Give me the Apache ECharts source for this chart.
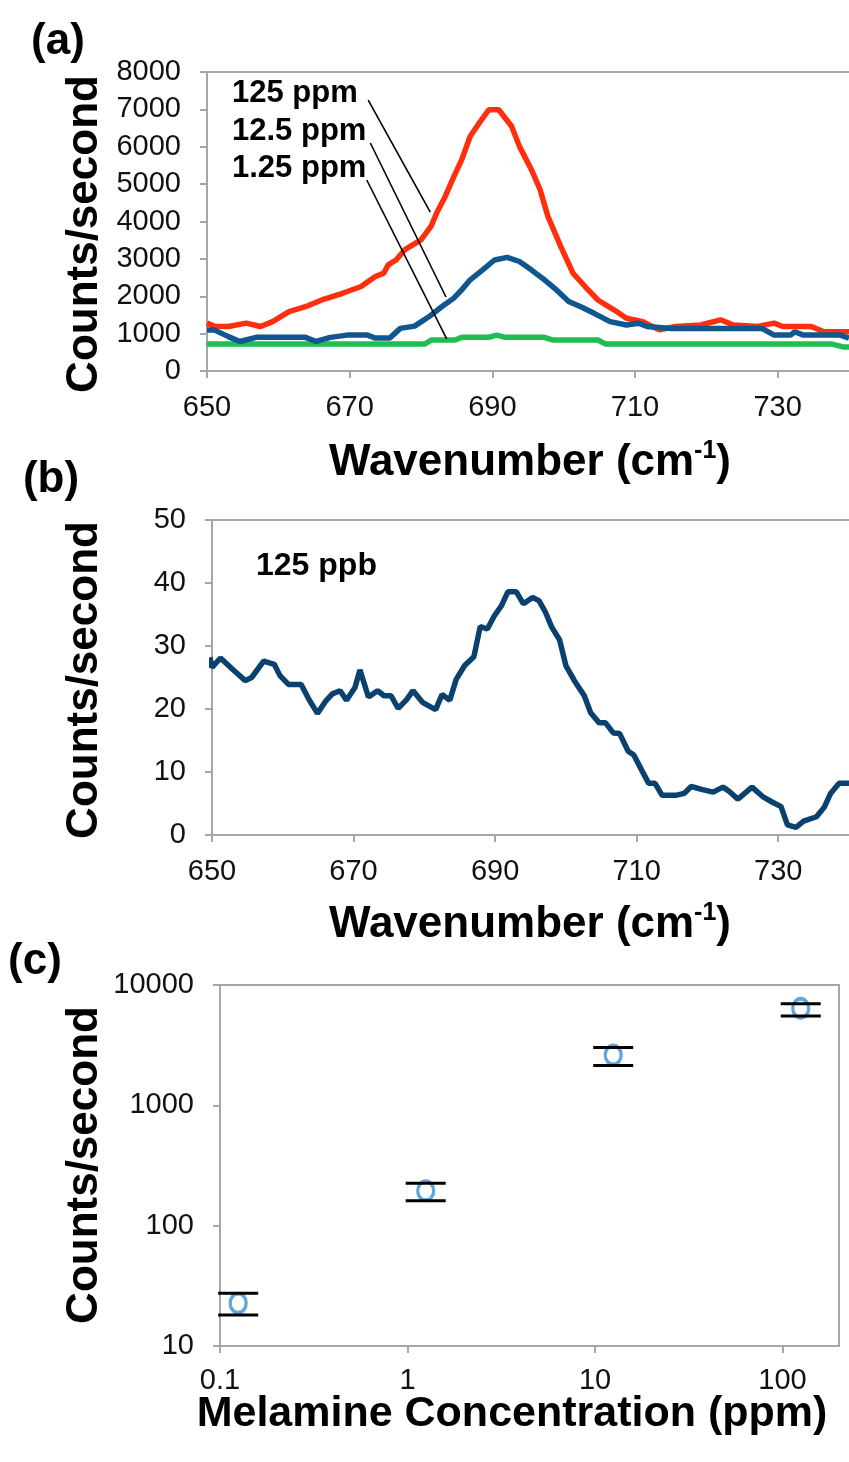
<!DOCTYPE html>
<html>
<head>
<meta charset="utf-8">
<script src="https://cdn.jsdelivr.net/npm/echarts@6/dist/echarts.min.js"></script>
<style>
  html, body { margin: 0; padding: 0; background: #fff; }
  #myChart { width: 849px; height: 1462px; }
</style>
</head>
<body>
<div id="myChart"></div>
<script>
// (a) spectra at three concentrations
const wn125 = [650, 651, 653, 655.5, 657.5, 659.2, 661.5, 663.8, 666.1, 669, 671.6, 673.6, 674.8, 675.4, 676.5, 677.7, 680, 681.4, 682.3, 683.4, 684.6, 685.7, 686.9, 688, 689.5, 690.9, 692.7, 693.8, 695.5, 696.7, 697.8, 699.6, 701.3, 703, 704.8, 707.1, 708.8, 711.1, 713.4, 715.7, 719.2, 722, 723.8, 727.2, 729.5, 730.7, 734.7, 736.5, 740]
const cps125 = [1280, 1200, 1190, 1280, 1190, 1320, 1590, 1720, 1900, 2080, 2260, 2530, 2620, 2840, 2970, 3240, 3510, 3870, 4270, 4670, 5200, 5650, 6280, 6590, 6990, 6990, 6550, 6010, 5380, 4850, 4130, 3330, 2620, 2260, 1900, 1630, 1410, 1320, 1100, 1190, 1230, 1370, 1230, 1190, 1280, 1190, 1190, 1050, 1050]
const wn12_5 = [650, 651, 653, 654.6, 656.9, 663.8, 665.3, 667.3, 669.6, 672.5, 673.6, 675.6, 677.1, 679.1, 681.1, 682.9, 684.6, 685.7, 686.9, 688.6, 690.3, 692.1, 693.8, 695.5, 697.3, 699, 700.7, 702.4, 704.2, 706.5, 708.8, 710.5, 711.7, 715.1, 727.8, 729.5, 731.8, 732.4, 733.6, 738.8, 740]
const cps12_5 = [1100, 1100, 920, 790, 900, 900, 790, 900, 960, 960, 880, 880, 1140, 1200, 1450, 1720, 1950, 2170, 2440, 2700, 2970, 3040, 2930, 2700, 2440, 2170, 1860, 1720, 1550, 1320, 1230, 1280, 1190, 1140, 1140, 960, 960, 1050, 960, 960, 880]
const wn1_25 = [650, 680.5, 681.5, 684.8, 685.7, 689.5, 690.6, 691.8, 697.3, 698.4, 704.8, 705.9, 737.6, 739.3, 740]
const cps1_25 = [720, 720, 830, 830, 900, 900, 960, 900, 900, 830, 830, 720, 720, 640, 640]
// leader lines from the labels to the curves: [x1, y1, x2, y2]
const leaders = [
  [672.6, 7250, 681.3, 4250],
  [672.9, 6100, 683.5, 1980],
  [672.4, 5110, 683.6, 860]
]
const seriesNames = ['125 ppm', '12.5 ppm', '1.25 ppm']

// (b) 125 ppb spectrum
const wnPpb = [649.7, 650, 651.2, 652.9, 654.7, 655.6, 657.3, 658.8, 659.6, 660.8, 662.6, 663.7, 664.9, 666.1, 667, 668.1, 669, 670.2, 670.9, 672.1, 673.4, 674.3, 675.3, 676.3, 677.5, 678.4, 679.8, 681.6, 682.5, 683.6, 684.5, 685.7, 687, 687.9, 688.9, 689.9, 690.9, 691.8, 693, 694, 695.3, 696.2, 697.1, 698, 699.1, 700, 701.2, 702.6, 703.5, 704.7, 705.6, 706.7, 707.6, 708.8, 709.6, 710.8, 711.7, 712.6, 713.6, 715.5, 716.7, 717.7, 719.3, 720.8, 722.2, 723.1, 724.3, 726.3, 727.8, 729.2, 730.4, 731.3, 732.5, 733.6, 735.4, 736.5, 737.4, 738.6, 740]
const cpsPpb = [28.2, 26.6, 28.1, 26.3, 24.5, 25, 27.6, 27.1, 25.3, 23.9, 23.9, 21.5, 19.3, 21.3, 22.4, 22.9, 21.4, 23.4, 26.2, 21.9, 22.9, 22.1, 22.1, 20.1, 21.5, 22.9, 21, 19.9, 22.3, 21.4, 24.7, 26.9, 28.3, 33.1, 32.7, 34.8, 36.4, 38.6, 38.6, 36.7, 37.7, 37.2, 35.4, 33, 31, 26.9, 24.5, 22.1, 19.4, 17.8, 17.8, 16.2, 16.1, 13.3, 12.7, 10.1, 8.2, 8.2, 6.3, 6.3, 6.6, 7.7, 7.2, 6.8, 7.6, 6.9, 5.7, 7.6, 6.1, 5.2, 4.5, 1.6, 1.2, 2.2, 2.9, 4.4, 6.6, 8.2, 8.2]

// (c) calibration
const concs = [0.125, 1.25, 12.5, 125]
const means = [22.7, 195, 2620, 6410]
const errLow = [18.1, 161, 2140, 5530]
const errHigh = [27.4, 225, 3020, 6970]

const FONT = '"Liberation Sans", Arial, sans-serif'
const AXIS_GRAY = '#a6a6a6'
const TICK_SIZE = 29

function pairs (xs, ys) {
  return xs.map((x, i) => [x, ys[i]])
}

function tickLabel (margin, formatter, extra) {
  return Object.assign({
    color: '#111',
    fontSize: TICK_SIZE,
    fontFamily: FONT,
    margin: margin,
    formatter: formatter || (v => String(v))
  }, extra || {})
}

function valueAxis (grid, min, max, interval, extra) {
  return Object.assign({
    type: 'value',
    gridIndex: grid,
    min: min,
    max: max,
    interval: interval,
    splitLine: { show: false },
    axisLine: { show: true, lineStyle: { color: AXIS_GRAY, width: 2 } },
    axisTick: { show: true, inside: false, length: 7, lineStyle: { color: AXIS_GRAY, width: 2 } },
    axisLabel: tickLabel(22, null, { showMaxLabel: false })
  }, extra || {})
}

function borderAxis (grid, min, max) {
  return {
    type: 'value',
    gridIndex: grid,
    position: 'top',
    min: min,
    max: max,
    splitLine: { show: false },
    axisLine: { show: true, lineStyle: { color: AXIS_GRAY, width: 2 } },
    axisTick: { show: false },
    axisLabel: { show: false }
  }
}

function titleX (text, x, y) {
  return {
    type: 'text',
    x: x,
    y: y,
    style: {
      text: '{a|' + text + ' (cm}{s|-1}{a|)}',
      align: 'center',
      verticalAlign: 'middle',
      textAlign: 'center',
      textVerticalAlign: 'middle',
      rich: {
        a: { fontSize: 44, fontWeight: 'bold', fontFamily: FONT, lineHeight: 48, fill: '#000' },
        s: { fontSize: 25, fontWeight: 'bold', fontFamily: FONT, lineHeight: 25, verticalAlign: 'top', fill: '#000' }
      }
    }
  }
}

function plainText (text, x, y, size, rotation, align) {
  return {
    type: 'text',
    x: x,
    y: y,
    rotation: rotation || 0,
    style: {
      text: text,
      font: 'bold ' + size + 'px ' + FONT,
      fill: '#000',
      align: align || 'center',
      verticalAlign: 'middle',
      textAlign: align || 'center',
      textVerticalAlign: 'middle'
    }
  }
}

const leaderLines = leaders.map(l => [{ coord: [l[0], l[1]] }, { coord: [l[2], l[3]] }])

let option = {
  animation: false,
  backgroundColor: '#fff',
  grid: [
    { left: 207, top: 72, right: 0, height: 299 },
    { left: 212, top: 520, right: 0, height: 315 },
    { left: 220, top: 985, right: 10, height: 361, show: true, borderColor: AXIS_GRAY, borderWidth: 2 }
  ],
  xAxis: [
    valueAxis(0, 650, 740, 20),
    valueAxis(1, 650, 740, 20),
    valueAxis(2, 0.1, 200, null, {
      type: 'log',
      logBase: 10,
      interval: undefined,
      axisLabel: tickLabel(20, v => String(+Number(v).toPrecision(3)), { showMaxLabel: false })
    }),
    borderAxis(0, 650, 740),
    borderAxis(1, 650, 740)
  ],
  yAxis: [
    valueAxis(0, 0, 8000, 1000, { axisLabel: tickLabel(26) }),
    valueAxis(1, 0, 50, 10, { axisLabel: tickLabel(26) }),
    valueAxis(2, 10, 10000, null, {
      type: 'log',
      logBase: 10,
      interval: undefined,
      axisLabel: tickLabel(26, v => String(Math.round(v)))
    })
  ],
  series: [
    {
      name: seriesNames[0],
      type: 'line',
      xAxisIndex: 0,
      yAxisIndex: 0,
      showSymbol: false,
      lineStyle: { color: '#ff2e0c', width: 5.5 },
      data: pairs(wn125, cps125),
      z: 3
    },
    {
      name: seriesNames[1],
      type: 'line',
      xAxisIndex: 0,
      yAxisIndex: 0,
      showSymbol: false,
      lineStyle: { color: '#11578f', width: 5.5 },
      data: pairs(wn12_5, cps12_5),
      z: 4
    },
    {
      name: seriesNames[2],
      type: 'line',
      xAxisIndex: 0,
      yAxisIndex: 0,
      showSymbol: false,
      lineStyle: { color: '#1fbd52', width: 5.5 },
      data: pairs(wn1_25, cps1_25),
      z: 2,
      markLine: {
        silent: true,
        symbol: 'none',
        label: { show: false },
        lineStyle: { color: '#000', width: 1.6, type: 'solid' },
        data: leaderLines,
        z: 10
      }
    },
    {
      name: '125 ppb',
      type: 'line',
      xAxisIndex: 1,
      yAxisIndex: 1,
      showSymbol: false,
      lineStyle: { color: '#0b416f', width: 5.5 },
      data: pairs(wnPpb, cpsPpb)
    },
    {
      name: 'calibration',
      type: 'scatter',
      xAxisIndex: 2,
      yAxisIndex: 2,
      symbol: 'circle',
      symbolSize: [16, 19],
      itemStyle: { color: '#fff', borderColor: '#3a8ed4', borderWidth: 3.5 },
      data: pairs(concs, means),
      z: 3
    },
    {
      name: 'error',
      type: 'custom',
      xAxisIndex: 2,
      yAxisIndex: 2,
      z: 4,
      data: concs.map((c, i) => [c, errLow[i], errHigh[i]]),
      renderItem: function (params, api) {
        let lo = api.coord([api.value(0), api.value(1)])
        let hi = api.coord([api.value(0), api.value(2)])
        let half = 20
        let style = { stroke: '#000', lineWidth: 3 }
        return {
          type: 'group',
          children: [
            { type: 'line', shape: { x1: lo[0] - half, y1: lo[1], x2: lo[0] + half, y2: lo[1] }, style: style },
            { type: 'line', shape: { x1: hi[0] - half, y1: hi[1], x2: hi[0] + half, y2: hi[1] }, style: style }
          ]
        }
      }
    }
  ],
  graphic: [
    plainText('(a)', 58, 42, 44),
    plainText('(b)', 51, 480, 44),
    plainText('(c)', 35, 962, 44),
    plainText('Counts/second', 85, 234, 44, Math.PI / 2),
    plainText('Counts/second', 85, 680, 44, Math.PI / 2),
    plainText('Counts/second', 85, 1165, 44, Math.PI / 2),
    titleX('Wavenumber', 530, 463),
    titleX('Wavenumber', 530, 925),
    plainText('Melamine Concentration (ppm)', 512, 1414, 43),
    plainText(seriesNames[0], 232, 93, 31, 0, 'left'),
    plainText(seriesNames[1], 232, 131, 31, 0, 'left'),
    plainText(seriesNames[2], 232, 168, 31, 0, 'left'),
    plainText('125 ppb', 256, 566, 32, 0, 'left')
  ]
}

let myChart = echarts.init(document.getElementById('myChart'))
myChart.setOption(option)
</script>
</body>
</html>
